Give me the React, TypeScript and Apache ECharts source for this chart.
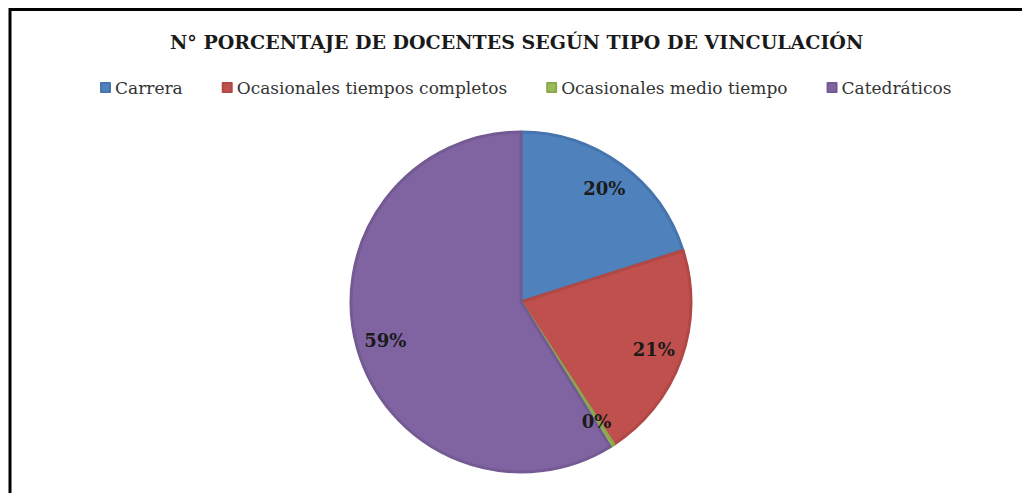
import React, { useEffect, useRef } from "react";
import * as echarts from "echarts";

const titleText = "N° PORCENTAJE DE DOCENTES SEGÚN TIPO DE VINCULACIÓN";
const categories = ["Carrera", "Ocasionales tiempos completos", "Ocasionales medio tiempo", "Catedráticos"];
const values = [20.1, 20.7, 0.4, 58.8];
const colors = ["#4F81BD", "#C0504D", "#9BBB59", "#8064A2"];
const borderColors = ["#4675AD", "#B04845", "#8AA94E", "#735A93"];

const FONT = "'DejaVu Serif', serif";

export default function App() {
  const ref = useRef<HTMLDivElement>(null);
  useEffect(() => {
    if (!ref.current) return;
    const chart = echarts.init(ref.current, undefined, { renderer: "svg" });
    const data = categories.map((name, i) => ({
      name,
      value: values[i],
      itemStyle: { color: colors[i], borderColor: borderColors[i], borderWidth: 3 },
    }));
    chart.setOption({
      animation: false,
      backgroundColor: "#ffffff",
      title: {
        text: titleText,
        left: 165,
        top: 27,
        textStyle: { fontFamily: FONT, fontWeight: "bold", fontSize: 19, color: "#1a1a1a" },
      },
      legend: {
        data: categories,
        top: 74,
        left: 95,
        icon: "rect",
        itemWidth: 9,
        itemHeight: 9,
        itemGap: 39,
        textStyle: { fontFamily: FONT, fontSize: 17, color: "#333333" },
      },
      graphic: [
        {
          type: "polyline",
          shape: { points: [[10, 600], [10, 9.5], [1030, 9.5]] },
          style: { stroke: "#000000", lineWidth: 3, fill: "none" },
        },
      ],
      series: [
        {
          type: "pie",
          center: [521, 302],
          radius: [0, 170],
          startAngle: 90,
          clockwise: true,
          label: { show: false },
          labelLine: { show: false },
          emphasis: { disabled: true },
          data,
        },
        {
          type: "pie",
          center: [521, 302],
          radius: [100, 176],
          startAngle: 90,
          clockwise: true,
          silent: true,
          legendHoverLink: false,
          itemStyle: { color: "transparent", borderWidth: 0 },
          label: {
            show: true,
            position: "inside",
            formatter: (p: any) => Math.round(p.value) + "%",
            fontFamily: FONT,
            fontWeight: "bold",
            fontSize: 18,
            color: "#1a1a1a",
          },
          labelLine: { show: false },
          emphasis: { disabled: true },
          data: categories.map((name, i) => ({ name: name + " ", value: values[i] })),
        },
      ],
    });
    return () => chart.dispose();
  }, []);
  return (
    <div
      ref={ref}
      style={{ position: "fixed", left: 0, top: 0, width: 1022, height: 493 }}
    />
  );
}
